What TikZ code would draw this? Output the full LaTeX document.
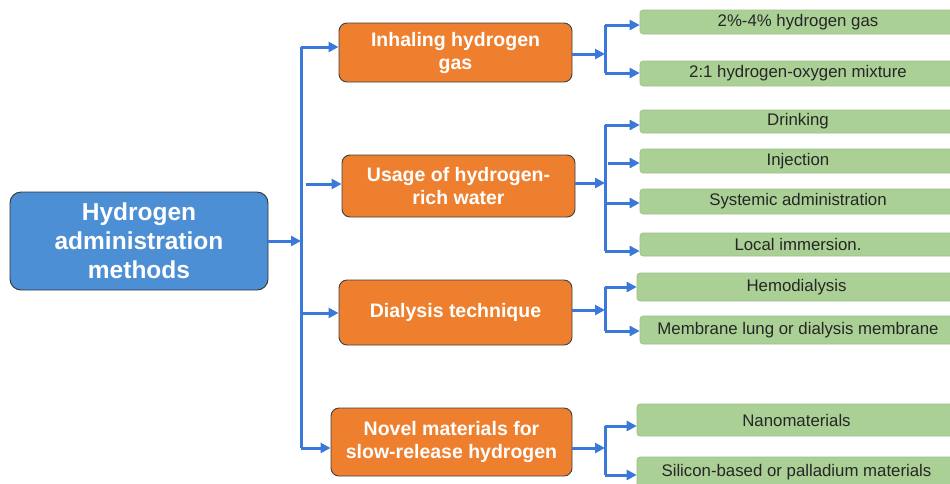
\documentclass[tikz,border=0pt]{standalone}
\usepackage{fontspec}
\setmainfont{Liberation Sans}
\usetikzlibrary{arrows.meta}
\definecolor{mainblue}{HTML}{4D8FD4}
\definecolor{orangefill}{HTML}{EE7F2E}
\definecolor{greenfill}{HTML}{AAD096}
\definecolor{greenline}{HTML}{9DBF8C}
\definecolor{arrowblue}{HTML}{3A78DA}
\definecolor{txtdark}{HTML}{262626}
\tikzset{
  mainbox/.style={draw=black!80, line width=0.9pt, fill=mainblue, rounded corners=11pt,
    text=white, font=\fontsize{24.5}{29}\selectfont\bfseries, align=center, inner sep=0pt},
  orbox/.style={draw=black!75, line width=0.9pt, fill=orangefill, rounded corners=8pt,
    text=white, font=\fontsize{19.5}{23}\selectfont\bfseries, align=center, inner sep=0pt},
  grbox/.style={draw=greenline, line width=0.6pt, fill=greenfill, rounded corners=3pt,
    text=txtdark, font=\fontsize{16.8}{18}\selectfont, align=center, inner sep=0pt},
  arr/.style={draw=arrowblue, line width=3pt, -{Triangle[length=10pt,width=10pt]}},
  ln/.style={draw=arrowblue, line width=3pt}
}
\begin{document}
\begin{tikzpicture}[x=1pt,y=-1pt]
\useasboundingbox (0,0) rectangle (950,483);
% main
\node[mainbox, minimum width=258pt, minimum height=98pt] (main) at (139,241) {Hydrogen\\administration\\methods};
% second level
\node[orbox, minimum width=233pt, minimum height=59pt] (inh) at (455.5,52.5) {Inhaling hydrogen\\gas};
\node[orbox, minimum width=233pt, minimum height=62pt] (use) at (458.5,186) {Usage of hydrogen-\\rich water};
\node[orbox, minimum width=233pt, minimum height=65pt] (dia) at (455.5,312.5) {Dialysis technique};
\node[orbox, minimum width=241pt, minimum height=68pt] (nov) at (451.5,442) {Novel materials for\\slow-release hydrogen};
% third level
\node[grbox, minimum width=316pt, minimum height=24pt] (g1) at (798,22) {2\%-4\% hydrogen gas};
\node[grbox, minimum width=316pt, minimum height=25pt] (g2) at (798,73.5) {2:1 hydrogen-oxygen mixture};
\node[grbox, minimum width=316pt, minimum height=23pt] (g3) at (798,121.5) {Drinking};
\node[grbox, minimum width=316pt, minimum height=24pt] (g4) at (798,161) {Injection};
\node[grbox, minimum width=316pt, minimum height=25pt] (g5) at (798,201.5) {Systemic administration};
\node[grbox, minimum width=316pt, minimum height=23pt] (g6) at (798,244.5) {Local immersion.};
\node[grbox, minimum width=319pt, minimum height=28pt] (g7) at (796.5,287) {Hemodialysis};
\node[grbox, minimum width=316pt, minimum height=28pt] (g8) at (798,330) {Membrane lung or dialysis membrane};
\node[grbox, minimum width=319pt, minimum height=32pt] (g9) at (796.5,420) {Nanomaterials};
\node[grbox, minimum width=319pt, minimum height=30pt] (g10) at (796.5,472) {Silicon-based or palladium materials};
% main trunk
\coordinate (tm) at (301,241);
\coordinate (t1) at (301,47);
\coordinate (t2) at (306,184);
\coordinate (t3) at (301,313);
\coordinate (t4) at (301,448);
\draw[ln] (t1) -- (t4);
\draw[arr] (main.east |- tm) -- (tm);
\draw[arr] (t1) -- (inh.west |- t1);
\draw[arr] (t2) -- (use.west |- t2);
\draw[arr] (t3) -- (dia.west |- t3);
\draw[arr] (t4) -- (nov.west |- t4);
% inhaling group
\coordinate (a0) at (605,54);
\coordinate (a1) at (605,25);
\coordinate (a2) at (605,73);
\draw[arr] (inh.east |- a0) -- (a0);
\draw[ln] (a1) -- (a2);
\draw[arr] (a1) -- (g1.west |- a1);
\draw[arr] (a2) -- (g2.west |- a2);
% usage group
\coordinate (b0) at (605,183);
\coordinate (b1) at (605,125);
\coordinate (b2) at (608,163);
\coordinate (b3) at (605,203);
\coordinate (b4) at (605,251);
\draw[arr] (use.east |- b0) -- (b0);
\draw[ln] (b1) -- (b4);
\draw[arr] (b1) -- (g3.west |- b1);
\draw[arr] (b2) -- (g4.west |- b2);
\draw[arr] (b3) -- (g5.west |- b3);
\draw[arr] (b4) -- (g6.west |- b4);
% dialysis group
\coordinate (c0) at (605,310);
\coordinate (c1) at (605,287);
\coordinate (c2) at (605,331);
\draw[arr] (dia.east |- c0) -- (c0);
\draw[ln] (c1) -- (c2);
\draw[arr] (c1) -- (g7.west |- c1);
\draw[arr] (c2) -- (g8.west |- c2);
% novel group
\coordinate (d0) at (605,448);
\coordinate (d1) at (605,426);
\coordinate (d2) at (605,475);
\draw[arr] (nov.east |- d0) -- (d0);
\draw[ln] (d1) -- (d2);
\draw[arr] (d1) -- (g9.west |- d1);
\draw[arr] (d2) -- (g10.west |- d2);
\end{tikzpicture}
\end{document}
